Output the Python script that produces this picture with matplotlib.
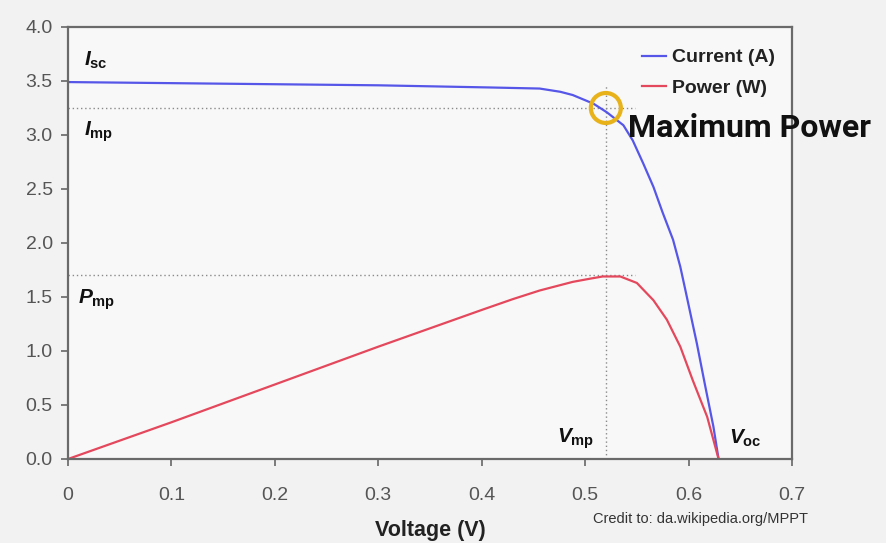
import matplotlib
matplotlib.use("Agg")
import matplotlib.pyplot as plt
from matplotlib.patches import Ellipse

# I-V curve
v_current = [0, 0.1, 0.2, 0.3, 0.408, 0.456, 0.476, 0.488, 0.498, 0.508, 0.521,
             0.537, 0.546, 0.556, 0.566, 0.575, 0.585, 0.592, 0.597, 0.608, 0.616,
             0.624, 0.629]
current = [3.49, 3.48, 3.47, 3.46, 3.44, 3.43, 3.40, 3.37, 3.33, 3.29, 3.21,
           3.09, 2.95, 2.74, 2.52, 2.28, 2.03, 1.78, 1.56, 1.07, 0.68,
           0.30, 0.0]

# P-V curve
v_power = [0, 0.1, 0.2, 0.3, 0.4, 0.43, 0.456, 0.488, 0.505, 0.517, 0.534, 0.550,
           0.566, 0.579, 0.592, 0.604, 0.618, 0.629]
power = [0, 0.34, 0.69, 1.04, 1.38, 1.48, 1.56, 1.64, 1.67, 1.69, 1.69, 1.63,
         1.47, 1.29, 1.04, 0.73, 0.39, 0.0]

v_mp, i_mp, p_mp = 0.52, 3.25, 1.70
x_ticks = [0, 0.1, 0.2, 0.3, 0.4, 0.5, 0.6, 0.7]
x_tick_labels = ["0", "0.1", "0.2", "0.3", "0.4", "0.5", "0.6", "0.7"]
y_ticks = [0.0, 0.5, 1.0, 1.5, 2.0, 2.5, 3.0, 3.5, 4.0]

plt.rcParams["font.family"] = ["Liberation Sans", "DejaVu Sans"]
plt.rcParams["mathtext.fontset"] = "custom"
plt.rcParams["mathtext.it"] = "Liberation Sans:bold:italic"
plt.rcParams["mathtext.bf"] = "Liberation Sans:bold"
plt.rcParams["mathtext.rm"] = "Liberation Sans"

fig = plt.figure(figsize=(8.87, 5.43), dpi=100, facecolor="#f2f2f2")
ax = fig.add_axes([0.0767, 0.1547, 0.8162, 0.7956])
ax.set_facecolor("#f8f8f8")

grey = "#8a8a8a"
ax.plot([0, 0.548], [i_mp, i_mp], color=grey, lw=1, ls=(0, (1, 2)))
ax.plot([0, 0.548], [p_mp, p_mp], color=grey, lw=1, ls=(0, (1, 2)))
ax.plot([v_mp, v_mp], [0, 3.46], color=grey, lw=1, ls=(0, (1, 2)))

ax.plot(v_current, current, color="#5656e8", lw=1.6, label="Current (A)")
ax.plot(v_power, power, color="#e4485c", lw=1.6, label="Power (W)")

# highlight ring around the maximum power point (circle in pixels)
ax.add_patch(Ellipse((v_mp, i_mp), 30 / 1034, 30 / 108, fill=False,
                     ec="#e8b21a", lw=3, zorder=5))

ax.set_xlim(0, 0.7)
ax.set_ylim(0, 4.0)
ax.set_xticks(x_ticks)
ax.set_xticklabels(x_tick_labels)
ax.set_yticks(y_ticks)
ax.set_yticklabels([f"{t:.1f}" for t in y_ticks])
ax.tick_params(axis="both", colors="#666666", labelcolor="#555555",
               labelsize=14, length=5, width=1.2, direction="out")
ax.tick_params(axis="x", pad=15)
ax.tick_params(axis="y", pad=6)
for s in ax.spines.values():
    s.set_color("#6a6a6a")
    s.set_linewidth(1.6)

ax.set_xlabel("Voltage (V)", fontsize=15.5, fontweight="bold", color="#222222",
              labelpad=12)

lab = dict(fontsize=15, color="#111111", va="center")
ax.text(0.015, 3.69, r"$I_{\mathbf{sc}}$", **lab)
ax.text(0.015, 3.03, r"$I_{\mathbf{mp}}$", **lab)
ax.text(0.010, 1.47, r"$P_{\mathbf{mp}}$", **lab)
ax.text(0.473, 0.19, r"$V_{\mathbf{mp}}$", **lab)
ax.text(0.639, 0.19, r"$V_{\mathbf{oc}}$", **lab)

leg = ax.legend(loc="upper right", frameon=False, handlelength=1.2,
                handletextpad=0.3, labelspacing=0.65,
                bbox_to_anchor=(1.0, 0.99), prop={"weight": "bold", "size": 14})
for t in leg.get_texts():
    t.set_color("#222222")

fig.text(628 / 887, 1 - 128 / 543, "Maximum Power", fontsize=23,
         fontweight="bold", family=["Roboto", "DejaVu Sans"], color="#111111",
         va="center", ha="left")
fig.text(808 / 887, 1 - 519 / 543, "Credit to: da.wikipedia.org/MPPT", fontsize=10.5,
         color="#333333", ha="right", va="center")

fig.savefig("out.png", dpi=100, facecolor=fig.get_facecolor())
